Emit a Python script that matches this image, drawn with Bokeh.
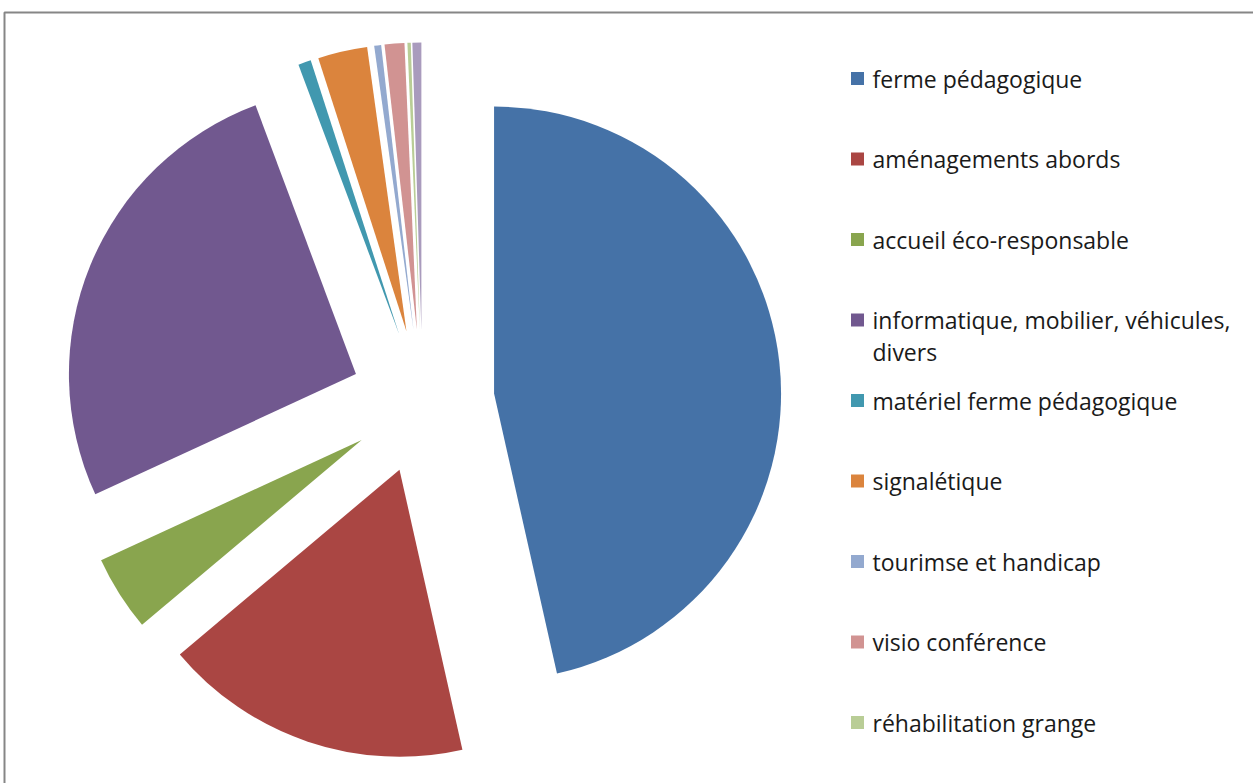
import math
from bokeh.plotting import figure
from bokeh.models import ColumnDataSource, Range1d
from bokeh.core.properties import value
from bokeh.embed import file_html
from bokeh.resources import INLINE

# ---- data (shares of total) ----
categories = [
    "ferme pédagogique",
    "aménagements abords",
    "accueil éco-responsable",
    "informatique, mobilier, véhicules,\ndivers",
    "matériel ferme pédagogique",
    "signalétique",
    "tourimse et handicap",
    "visio conférence",
    "réhabilitation grange",
    "",
]
values = [46.5, 17.4, 4.25, 26.2, 0.72, 2.78, 0.39, 1.11, 0.19, 0.50]
colors = ["#4572A7", "#AA4643", "#89A54E", "#71588F", "#4198AF",
          "#DB843D", "#93A9CF", "#D19392", "#B9CD96", "#A99BBD"]
legend_count = 9  # legend in the original is cut after 9 entries

W, H = 1253, 783
cx, cy = 422, H - 401     # pie centre
radius = 287              # pixels
explode = 72              # pixels

total = sum(values)
xs, ys, starts, ends = [], [], [], []
acc = 0.0
for v in values:
    t1 = acc / total * 2 * math.pi          # clockwise from 12 o'clock
    acc += v
    t2 = acc / total * 2 * math.pi
    tm = (t1 + t2) / 2
    xs.append(cx + explode * math.sin(tm))
    ys.append(cy + explode * math.cos(tm))
    starts.append(math.pi / 2 - t2)
    ends.append(math.pi / 2 - t1)

src = ColumnDataSource(dict(x=xs, y=ys, start=starts, end=ends, color=colors))

p = figure(width=W, height=H, output_backend="svg", toolbar_location=None,
           x_range=Range1d(0, W), y_range=Range1d(0, H),
           min_border=0, min_border_left=0, min_border_right=0,
           min_border_top=0, min_border_bottom=0)
p.axis.visible = False
p.grid.visible = False
p.outline_line_color = None
p.background_fill_color = "white"
p.border_fill_color = "white"

# chart-area frame
p.quad(left=4, right=W + 10, top=H - 12, bottom=-10, fill_color=None,
       line_color="#868686", line_width=2)

p.wedge(x="x", y="y", radius=radius, radius_units="screen",
        start_angle="start", end_angle="end", direction="anticlock",
        fill_color="color", line_color=None, source=src)

# legend
leg_top = H - 78
leg_step = 80.5
lx = [857] * legend_count
ly = [leg_top - i * leg_step for i in range(legend_count)]
p.rect(x=lx, y=ly, width=13, height=13, width_units="screen", height_units="screen",
       fill_color=colors[:legend_count], line_color=None)
tx, ty, tt = [], [], []
for i in range(legend_count):
    lines = categories[i].split("\n")
    for j, ln in enumerate(lines):
        tx.append(872)
        ty.append(ly[i] - j * 32)
        tt.append(ln)
p.text(x=tx, y=ty, text=tt, text_font=value("Open Sans"), text_font_size="23px",
       text_baseline="middle", text_align="left", text_color="#1a1a1a")

open("out.html", "w").write(file_html(p, INLINE))
